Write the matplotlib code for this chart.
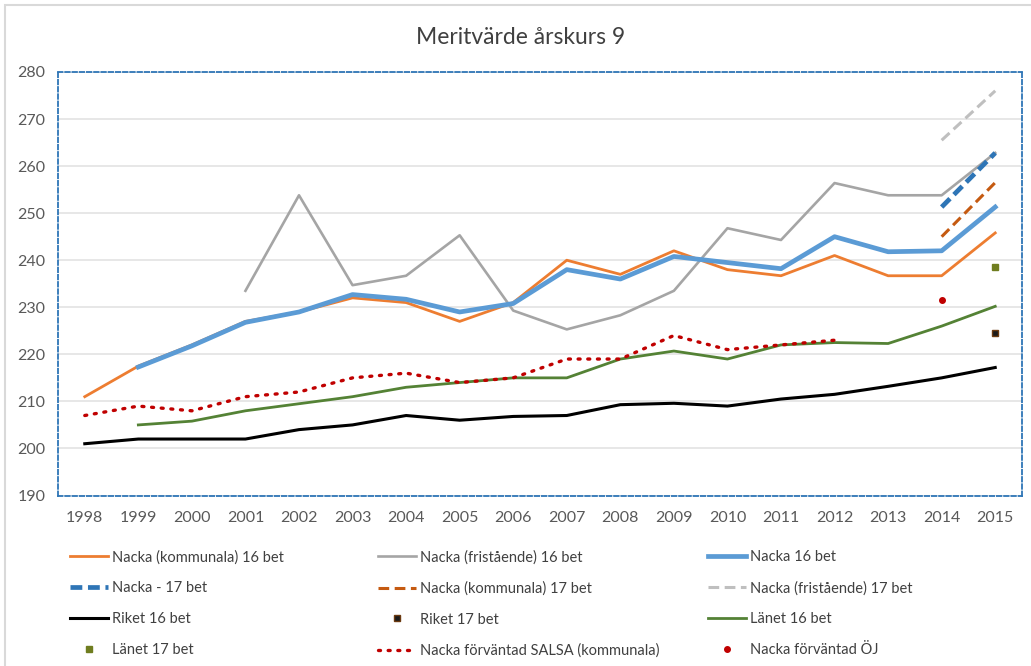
import matplotlib
matplotlib.use("Agg")
import matplotlib.pyplot as plt
import matplotlib.patches as mpatches
import numpy as np

plt.rcParams['font.family'] = ['Lato', 'DejaVu Sans']

years = list(range(1998, 2016))
year_labels = [str(y) for y in years]

nan = np.nan
kommunala_16 = [211, 217.5, 222, 227, 229, 232, 231, 227, 231, 240, 237, 242, 238, 236.7, 241, 236.7, 236.7, 245.8]
fristaende_16 = [nan, nan, nan, 233.5, 253.8, 234.7, 236.7, 245.3, 229.3, 225.3, 228.3, 233.5, 246.8, 244.3, 256.4, 253.8, 253.8, 262.8]
nacka_16 = [nan, 217.3, 221.8, 226.8, 229, 232.7, 231.7, 229, 230.8, 238, 236, 240.8, 239.5, 238.2, 245, 241.8, 242, 251.3]
nacka_17 = [nan] * 16 + [251.3, 262.8]
kommunala_17 = [nan] * 16 + [245, 256.5]
fristaende_17 = [nan] * 16 + [265.5, 276]
riket_16 = [201, 202, 202, 202, 204, 205, 207, 206, 206.8, 207, 209.3, 209.6, 209, 210.5, 211.5, 213.2, 215, 217.2]
riket_17 = [nan] * 17 + [224.5]
lanet_16 = [nan, 205, 205.8, 208, 209.5, 211, 213, 214, 215, 215, 219, 220.7, 219, 222, 222.5, 222.3, 226, 230.2]
lanet_17 = [nan] * 17 + [238.6]
salsa = [207, 209, 208, 211, 212, 215, 216, 214, 215, 219, 219, 224, 221, 222, 223, nan, nan, nan]
oj = [nan] * 16 + [231.5, nan]

fig = plt.figure(figsize=(10.31, 6.66), dpi=100)
fig.patch.set_facecolor('white')
fig.add_artist(mpatches.Rectangle((5/1031, -0.1), 1.2, 1 - 5/666 + 0.1,
                                  transform=fig.transFigure, fill=False,
                                  edgecolor='#d9d9d9', linewidth=1.5))

ax = fig.add_axes([58/1031, 1 - 495.5/666, 964/1031, 423.5/666])
x = np.arange(len(years))

ax.set_xlim(-0.5, len(years) - 0.5)
ax.set_ylim(190, 280)
ax.set_yticks(range(190, 281, 10))
ax.set_xticks(x)
ax.set_xticklabels(year_labels)
ax.grid(axis='y', color='#e3e3e3', linewidth=1.2)
ax.set_axisbelow(True)
for s in ax.spines.values():
    s.set_visible(True)
    s.set_color('#2e75b6')
    s.set_linestyle((0, (2.5, 1.5)))
    s.set_linewidth(1.3)
ax.tick_params(length=0, labelsize=11.5, labelcolor='#595959', pad=11)
ax.tick_params(axis='y', pad=9)

h = {}
h['k16'], = ax.plot(x, kommunala_16, color='#ED7D31', lw=2.0, label='Nacka (kommunala) 16 bet')
h['f16'], = ax.plot(x, fristaende_16, color='#A5A5A5', lw=1.9, label='Nacka (fristående) 16 bet')
h['n16'], = ax.plot(x, nacka_16, color='#5B9BD5', lw=3.4, label='Nacka 16 bet')
h['n17'], = ax.plot(x, nacka_17, color='#2E75B6', lw=3.4, ls=(0, (2.5, 1.2)), label='Nacka - 17 bet')
h['k17'], = ax.plot(x, kommunala_17, color='#C55A11', lw=2.2, ls=(0, (3.5, 1.8)), label='Nacka (kommunala) 17 bet')
h['f17'], = ax.plot(x, fristaende_17, color='#BFBFBF', lw=2.2, ls=(0, (3.5, 1.8)), label='Nacka (fristående) 17 bet')
h['r16'], = ax.plot(x, riket_16, color='#000000', lw=2.2, label='Riket 16 bet')
h['r17'], = ax.plot(x, riket_17, ls='none', marker='s', ms=5, mfc='#1a1a1a', mec='#6b3a10', label='Riket 17 bet')
h['l16'], = ax.plot(x, lanet_16, color='#548235', lw=2.0, label='Länet 16 bet')
h['l17'], = ax.plot(x, lanet_17, ls='none', marker='s', ms=5, mfc='#6f7d1f', mec='#6f7d1f', label='Länet 17 bet')
h['sal'], = ax.plot(x, salsa, color='#C00000', lw=2.4, ls=(0, (0.6, 2.3)), dash_capstyle='round', label='Nacka förväntad SALSA (kommunala)')
h['oj'], = ax.plot(x, oj, ls='none', marker='o', ms=4, mfc='#C00000', mec='#C00000', label='Nacka förväntad ÖJ')

fig.text(0.505, 1 - 37/666, 'Meritvärde årskurs 9', ha='center', va='center', fontsize=16.5, color='#404040')

columns = [['k16', 'n17', 'r16', 'l17'],
           ['f16', 'k17', 'r17', 'sal'],
           ['n16', 'f17', 'l16', 'oj']]
col_x = [70, 378, 708]
for keys, cx in zip(columns, col_x):
    hs = [h[k] for k in keys]
    leg = fig.legend(hs, [hh.get_label() for hh in hs], ncol=1, loc='upper left',
                     bbox_to_anchor=(cx/1031, 1 - 550/666), frameon=False,
                     fontsize=10.5, labelcolor='#404040', handlelength=2.6,
                     handletextpad=0.25, labelspacing=1.16, borderpad=0, borderaxespad=0)

fig.savefig('out.png', dpi=100, facecolor='white')
